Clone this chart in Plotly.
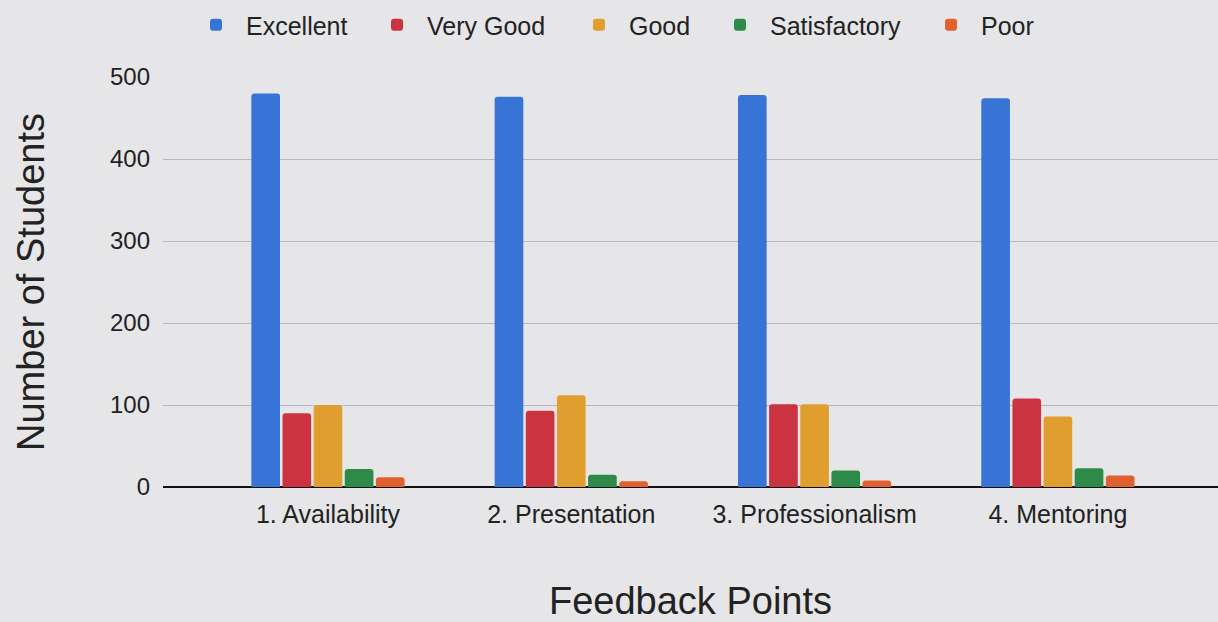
import plotly.graph_objects as go

categories = ["1. Availability", "2. Presentation", "3. Professionalism", "4. Mentoring"]
series_names = ["Excellent", "Very Good", "Good", "Satisfactory", "Poor"]
excellent = [480, 476, 478, 474]
very_good = [90, 93, 101, 108]
good = [100, 112, 101, 86]
satisfactory = [22, 15, 20, 23]
poor = [12, 7, 8, 14]
colors = ["#3874d6", "#cc3340", "#e09e2e", "#2e8a48", "#e0602f"]

values = [excellent, very_good, good, satisfactory, poor]
legend_ids = ["legend", "legend2", "legend3", "legend4", "legend5"]
legend_left_px = [186, 367, 569, 710, 921]

W, H = 1218, 622
fig = go.Figure()
for name, vals, col, lid in zip(series_names, values, colors, legend_ids):
    fig.add_trace(go.Bar(name=name, x=categories, y=vals, legend=lid,
                         marker=dict(color=col, line=dict(width=0), cornerradius=3)))

font_family = "Liberation Sans, Arial, sans-serif"
layout_legends = {}
for lid, lx in zip(legend_ids, legend_left_px):
    layout_legends[lid] = dict(orientation="h", xref="container", yref="container",
                               x=lx / W, xanchor="left", y=1 - 25 / H, yanchor="middle",
                               font=dict(size=25, color="#222222"), itemwidth=50,
                               bgcolor="rgba(0,0,0,0)", visible=True)

fig.update_layout(
    width=W, height=H, showlegend=True,
    barmode="group", bargap=0.36, bargroupgap=0.08,
    paper_bgcolor="#e6e6e8", plot_bgcolor="#e6e6e8",
    font=dict(family=font_family, color="#222222", size=24),
    margin=dict(l=163, r=0, t=77, b=135),
    xaxis=dict(range=[-0.678, 3.658], showgrid=False, ticks="",
               tickfont=dict(size=25), showline=False, automargin=False,
               ticklabelstandoff=10,
               title=dict(text="Feedback Points", font=dict(size=38), standoff=69)),
    yaxis=dict(range=[0, 500], tickvals=[0, 100, 200, 300, 400, 500],
               gridcolor="#b9b5c9", gridwidth=1.2, zeroline=True,
               zerolinecolor="#111111", zerolinewidth=2, ticks="",
               tickfont=dict(size=24), ticklabelstandoff=12, automargin=False,
               title=dict(text="Number of Students", font=dict(size=38), standoff=53)),
    **layout_legends,
)

fig.write_html("out.html", config={"displayModeBar": False},
               post_script="document.body.style.margin='0';")
